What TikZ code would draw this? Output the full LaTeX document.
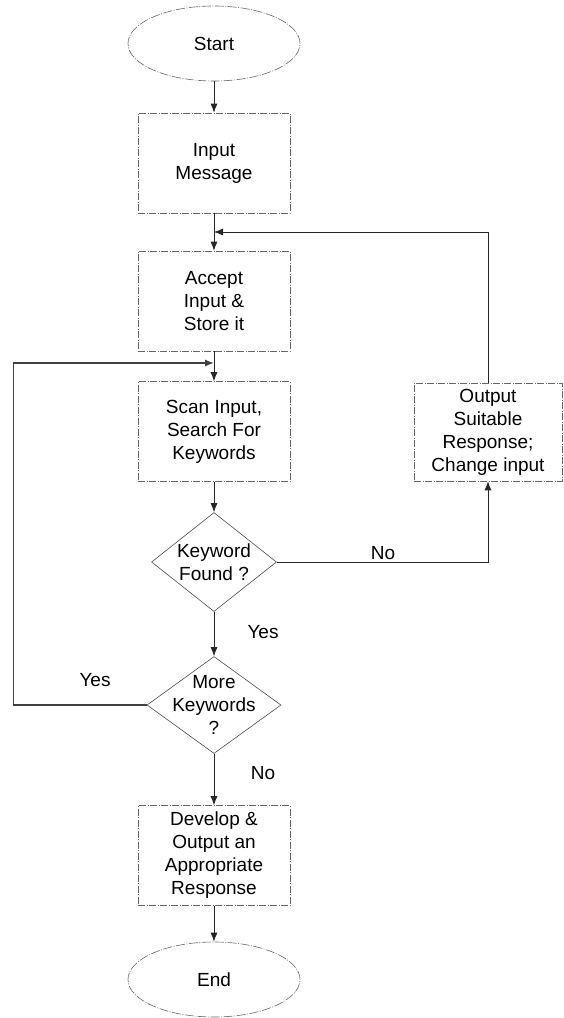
\documentclass[tikz,border=0pt]{standalone}
\usepackage{fontspec}
\setmainfont{Liberation Sans}
\usetikzlibrary{shapes.geometric,arrows.meta}

\begin{document}
\begin{tikzpicture}[x=1pt, y=-1pt, font=\fontsize{19}{23}\selectfont,
    box/.style={draw=black!60, line width=0.6pt, dash pattern=on 7pt off 1.5pt on 1pt off 1.5pt,
      minimum width=152, minimum height=100, align=center, inner sep=0pt},
    terminal/.style={ellipse, draw=black!60, line width=0.6pt, dash pattern=on 9pt off 1.5pt on 1pt off 1.5pt,
      minimum width=172, minimum height=75, inner sep=0pt},
    decision/.style={diamond, draw=black!70, line width=0.6pt, inner sep=0pt},
    flow/.style={draw=black!85, line width=0.8pt, -{Latex[length=9pt,width=7pt]}},
    loop/.style={flow, draw=black!75, line width=1.3pt}]
  \useasboundingbox (0,0) rectangle (563,1018);
  \node[terminal] (start) at (214,43.5) {Start};
  \node[box] (input) at (214,163) {Input\\Message};
  \node[box] (accept) at (214,301) {Accept\\Input \&\\Store it};
  \node[box] (scan) at (214,431.5) {Scan Input,\\Search For\\Keywords};
  \node[decision, minimum width=125, minimum height=99,
    label={[align=center]center:Keyword\\Found ?}] (found) at (214,562) {};
  \node[decision, minimum width=134, minimum height=97,
    label={[align=center]center:More\\Keywords\\?}] (more) at (214,705) {};
  \node[box] (develop) at (214,855.5) {Develop \&\\Output an\\Appropriate\\Response};
  \node[terminal] (end) at (214,979.5) {End};
  \node[box, minimum width=148, minimum height=98] (output) at (488,432) {Output\\Suitable\\Response;\\Change input};
  \coordinate (backin) at (214,232);
  \coordinate (loopin) at (214,363);

  \draw[flow] (start) -- (input);
  \draw[flow] (input) -- (accept);
  \draw[flow] (accept) -- (scan);
  \draw[flow] (scan) -- (found);
  \draw[flow] (found) -- (more);
  \draw[flow] (more) -- (develop);
  \draw[flow] (develop) -- (end);
  \draw[flow] (found.east) -| (output.south);
  \draw[flow] (output.north) |- (backin);
  \draw[loop] (more.west) -- ++(-133,0) |- (loopin);

  \node (yes1) at (263,632) {Yes};
  \node (no1) at (383,553) {No};
  \node (yes2) at (95,680) {Yes};
  \node (no2) at (263,773) {No};
\end{tikzpicture}
\end{document}
